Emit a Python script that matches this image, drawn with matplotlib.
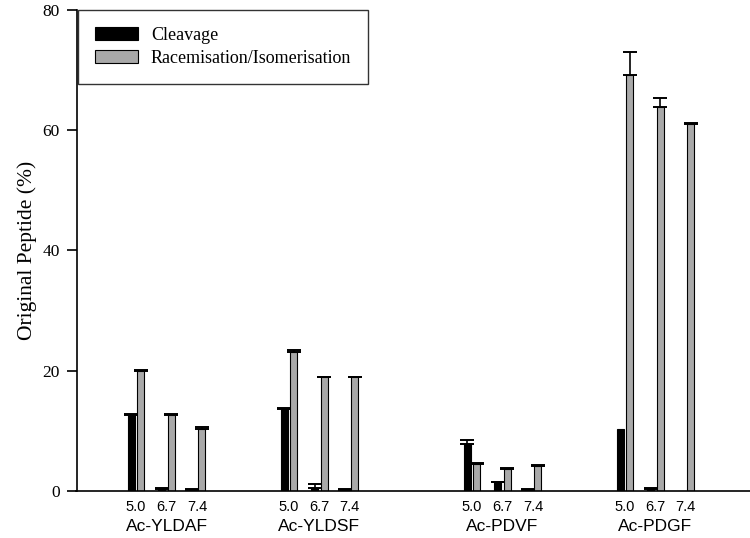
import numpy as np
import matplotlib
matplotlib.use("Agg")
import matplotlib.pyplot as plt


# =========================
# DATA
# =========================

peptides = ["Ac-YLDAF", "Ac-YLDSF", "Ac-PDVF", "Ac-PDGF"]
ph_labels = ["5.0", "6.7", "7.4"]

# slot positions of each pH bar pair on the x axis
slots = [0, 1, 2, 5, 6, 7, 11, 12, 13, 16, 17, 18]

cleavage = [12.6, 0.3, 0.2, 13.6, 0.6, 0.2, 7.8, 1.5, 0.2, 10.3, 0.3, 0.0]
cleavage_err = [0.2, 0.3, 0.1, 0.2, 0.6, 0.1, 0.7, 0.1, 0.1, 0.0, 0.3, 0.0]

racem = [19.9, 12.7, 10.4, 23.2, 18.9, 18.9, 4.6, 3.7, 4.2, 69.2, 63.9, 61.0]
racem_err = [0.2, 0.2, 0.2, 0.2, 0.1, 0.1, 0.1, 0.2, 0.1, 3.8, 1.5, 0.1]


# =========================
# PLOT
# =========================

fig = plt.figure(figsize=(7.5, 5.38), dpi=100)
ax = fig.add_axes([0.102, 0.087, 0.898, 0.895])

x = np.array(slots, dtype=float)
w = 0.23
off = 0.155

ax.bar(x - off, cleavage, width=w, color="black", edgecolor="black",
       linewidth=0.8, label="Cleavage", zorder=2)
ax.bar(x + off, racem, width=w, color="#a9a9a9", edgecolor="black",
       linewidth=0.8, label="Racemisation/Isomerisation", zorder=2)


def draw_err(xpos, vals, errs):
    xpos = np.asarray(xpos)
    vals = np.asarray(vals)
    errs = np.asarray(errs)
    keep = errs > 0
    ax.errorbar(xpos[keep], vals[keep],
                yerr=[np.zeros(keep.sum()), errs[keep]], fmt="none",
                ecolor="black", elinewidth=1.2, capsize=5, capthick=1.4,
                zorder=3)


draw_err(x - off, cleavage, cleavage_err)
draw_err(x + off, racem, racem_err)

ax.set_xlim(-1.95, 20.1)
ax.set_ylim(0, 80)

ax.spines["top"].set_visible(False)
ax.spines["right"].set_visible(False)
ax.spines["left"].set_linewidth(1.2)
ax.spines["bottom"].set_linewidth(1.2)

ax.set_yticks([0, 20, 40, 60, 80])
ax.tick_params(axis="y", direction="out", length=7, width=1.2,
               labelsize=12.5, pad=5)
for lbl in ax.get_yticklabels():
    lbl.set_fontfamily("Liberation Serif")

ax.set_xticks(x)
ax.set_xticklabels(ph_labels * len(peptides), fontfamily="Liberation Sans",
                   fontsize=10.5)
ax.tick_params(axis="x", length=0, pad=6)

# group labels under each set of pH values
for i, name in enumerate(peptides):
    center = np.mean(slots[3 * i:3 * i + 3])
    ax.text(center, -4.6, name, ha="center", va="top",
            fontfamily="Liberation Sans", fontsize=12.5)

ax.set_ylabel("Original Peptide (%)", fontfamily="Liberation Serif",
              fontsize=15.5, labelpad=4)

leg = ax.legend(loc="upper left", bbox_to_anchor=(0.002, 1.0),
                prop={"family": "Liberation Serif", "size": 13},
                frameon=True, fancybox=False, edgecolor="black",
                handlelength=2.4, handleheight=0.75, borderpad=0.95,
                labelspacing=0.35, handletextpad=0.7, borderaxespad=0)
leg.get_frame().set_linewidth(1.0)

fig.savefig("out.png", dpi=100)
